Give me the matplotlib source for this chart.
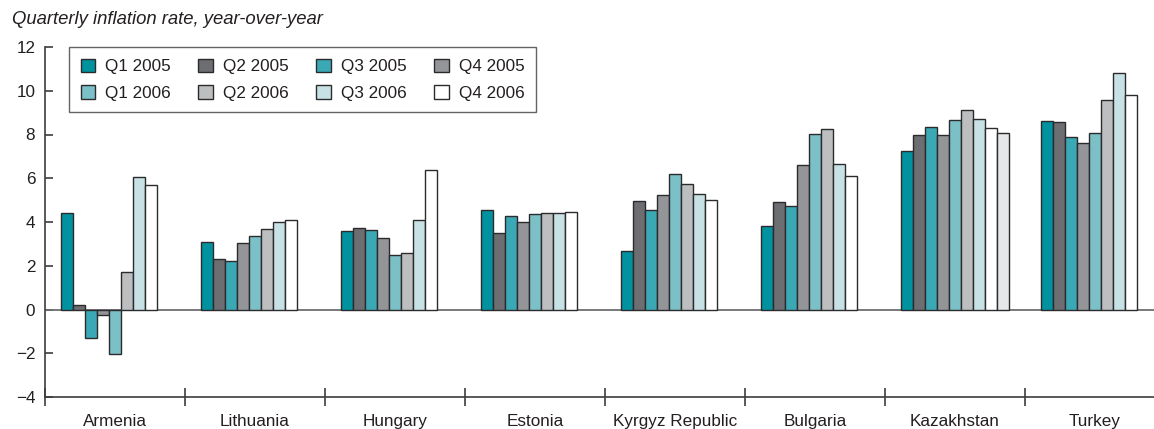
import numpy as np
import matplotlib.pyplot as plt

plt.rcParams['font.family'] = ['Liberation Sans', 'DejaVu Sans']

countries = ["Armenia", "Lithuania", "Hungary", "Estonia",
             "Kyrgyz Republic", "Bulgaria", "Kazakhstan", "Turkey"]
quarters = ["Q1 2005", "Q2 2005", "Q3 2005", "Q4 2005",
            "Q1 2006", "Q2 2006", "Q3 2006", "Q4 2006"]

q1_2005 = [4.40, 3.09, 3.57, 4.56, 2.66, 3.80, 7.25, 8.60]
q2_2005 = [0.19, 2.32, 3.74, 3.50, 4.98, 4.90, 7.96, 8.56]
q3_2005 = [-1.29, 2.20, 3.63, 4.26, 4.53, 4.75, 8.34, 7.89]
q4_2005 = [-0.25, 3.04, 3.28, 3.98, 5.22, 6.61, 7.96, 7.60]
q1_2006 = [-2.05, 3.36, 2.48, 4.37, 6.19, 8.01, 8.68, 8.05]
q2_2006 = [1.73, 3.66, 2.58, 4.43, 5.72, 8.27, 9.14, 9.59]
q3_2006 = [6.05, 3.98, 4.08, 4.41, 5.28, 6.65, 8.71, 10.81]
q4_2006 = [5.68, 4.09, 6.39, 4.47, 4.99, 6.10, 8.31, 9.81]
# extra unlabeled bar shown only for Kazakhstan
extra = [None, None, None, None, None, None, 8.07, None]

series = [q1_2005, q2_2005, q3_2005, q4_2005, q1_2006, q2_2006, q3_2006, q4_2006, extra]
colors = ["#00929f", "#6d6e71", "#3aa9b5", "#939598",
          "#7bbfc7", "#bcbec0", "#c7e1e5", "#ffffff", "#e6e7e8"]
edge = "#2b2b2d"

W, H = 1154, 429
fig = plt.figure(figsize=(W / 100, H / 100), dpi=100)
ax = fig.add_axes([45 / W, 32 / H, 1 - 45 / W, 350 / H])

x = np.arange(len(countries))
bw = 12 / 140
for j, vals in enumerate(series):
    xs = [x[i] + (j - 4) * bw for i, v in enumerate(vals) if v is not None]
    hs = [v for v in vals if v is not None]
    lab = quarters[j] if j < len(quarters) else None
    ax.bar(xs, hs, width=bw, color=colors[j], edgecolor=edge, linewidth=1.0,
           label=lab, zorder=3)

ax.axhline(0, color="#6d6e71", lw=1.3, zorder=2)

ax.set_xlim(-0.5, -0.5 + (W - 45) / 140)
ax.set_ylim(-4, 12)
ax.set_yticks(range(-4, 13, 2))
ax.set_yticklabels([str(v).replace("-", "\u2212") for v in range(-4, 13, 2)])

ax.set_xticks(np.arange(-0.5, 7, 1))
ax.set_xticklabels([])
ax.set_xticks(x, minor=True)
ax.set_xticklabels(countries, minor=True)

fs = 12.3
spine_c = "#3d3d3f"
for s in ["top", "right"]:
    ax.spines[s].set_visible(False)
for s in ["left", "bottom"]:
    ax.spines[s].set_color(spine_c)
    ax.spines[s].set_linewidth(1.2)

ax.tick_params(axis="y", direction="in", length=6, width=1.2, color=spine_c,
               labelsize=fs, labelcolor="#231f20", pad=7)
ax.tick_params(axis="x", which="major", direction="inout", length=13, width=1.2,
               color=spine_c)
ax.tick_params(axis="x", which="minor", length=0, labelsize=fs,
               labelcolor="#231f20", pad=12)

h, l = ax.get_legend_handles_labels()
order = [0, 4, 1, 5, 2, 6, 3, 7]
leg = ax.legend([h[i] for i in order], [l[i] for i in order], ncol=4,
                loc="upper left", bbox_to_anchor=((69 - 45) / (W - 45), 1.0),
                fontsize=fs, frameon=True, fancybox=False,
                handlelength=0.85, handleheight=0.85, handletextpad=0.6,
                columnspacing=1.6, labelspacing=0.62, borderpad=0.68,
                borderaxespad=0)
leg.get_frame().set_edgecolor(spine_c)
leg.get_frame().set_linewidth(1.0)
for t in leg.get_texts():
    t.set_color("#231f20")

fig.text(12 / W, 1 - 19 / H, "Quarterly inflation rate, year-over-year",
         style="italic", fontsize=13.3, color="#231f20", va="center", ha="left")

fig.savefig("out.png", dpi=100)
